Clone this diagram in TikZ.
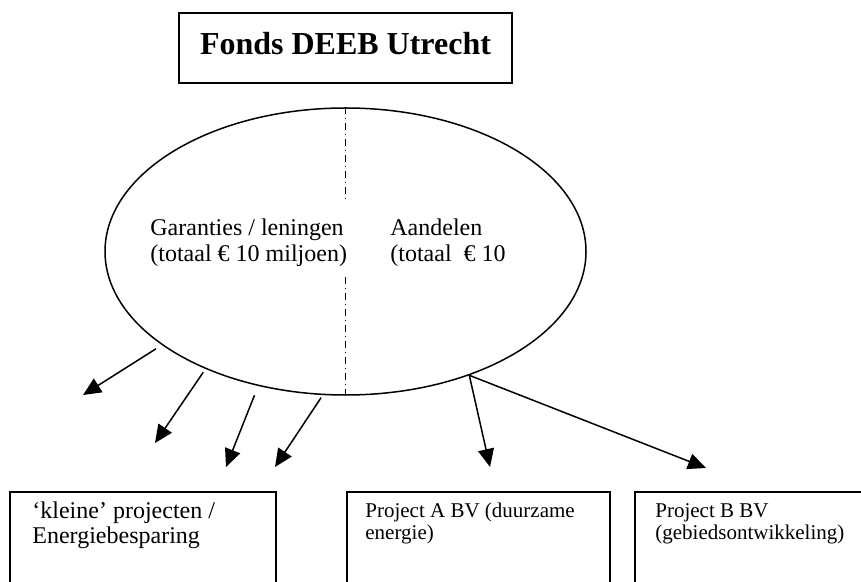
\documentclass[tikz,border=0pt]{standalone}
\usepackage{fontspec}
\setmainfont{Liberation Serif}
\usetikzlibrary{shapes.geometric,arrows.meta}

\begin{document}
\begin{tikzpicture}[x=.5pt,y=-.5pt,
		flow/.style={line width=.75pt,shorten <=1.5pt,-{Triangle[length=9pt,width=8pt]}},
		frame/.style={draw,line width=.75pt,inner sep=0pt,anchor=north west},
		divider/.style={line width=.6pt,dash pattern=on 3.5pt off 2pt on .5pt off 2pt},
		txt/.style={anchor=base west,inner sep=0pt,font=\fontsize{12}{13}\selectfont},
		smalltxt/.style={anchor=base west,inner sep=0pt,font=\fontsize{10.5}{11}\selectfont}]
		\useasboundingbox (0,0) rectangle (861,582);
		\node[frame,line width=1pt,minimum width=166.5pt,minimum height=35pt,text depth=5pt,
			font=\fontsize{16}{19}\selectfont\bfseries] (fonds) at (178,12) {Fonds DEEB Utrecht};
		\node[draw,ellipse,line width=.75pt,minimum width=240.5pt,minimum height=143.5pt] (fund) at (345.5,251.5) {};
		\coordinate (gapA) at (345.5,202);
		\coordinate (gapB) at (345.5,277);
		\draw[divider] (fund.north)--(gapA);
		\draw[divider] (gapB)--(fund.south);
		\node[txt] (garant) at (150,236) {\begin{tabular}[t]{@{}l@{}}Garanties / leningen\\(totaal € 10 miljoen)\end{tabular}};
		\node[txt] (aandel) at (390,236) {\begin{tabular}[t]{@{}l@{}}Aandelen\\(totaal~ € 10\end{tabular}};
		\node[frame,minimum width=133pt,minimum height=60pt] (small) at (9,491) {};
		\node[frame,minimum width=131.5pt,minimum height=60pt] (projA) at (346,491) {};
		\node[frame,minimum width=120pt,minimum height=60pt] (projB) at (634,491) {};
		\node[txt,font=\fontsize{12}{12.5}\selectfont] (smalllbl) at (32,518) {\begin{tabular}[t]{@{}l@{}}‘kleine’ projecten /\\Energiebesparing\end{tabular}};
		\node[smalltxt] (projAlbl) at (365,517) {\begin{tabular}[t]{@{}l@{}}Project A BV (duurzame\\energie)\end{tabular}};
		\node[smalltxt] (projBlbl) at (655,517) {\begin{tabular}[t]{@{}l@{}}Project B BV\\(gebiedsontwikkeling)\end{tabular}};
		\coordinate (t1) at (83,395);
		\coordinate (t2) at (155,443);
		\coordinate (t3) at (226,467);
		\coordinate (t4) at (275,467);
		\coordinate (t5) at (490,467);
		\coordinate (t6) at (706,468);
		\draw[flow,shorten <=3.5pt] (fund.207)--(t1);
		\draw[flow,shorten <=2pt] (fund.220)--(t2);
		\draw[flow,shorten <=5pt] (fund.237)--(t3);
		\draw[flow] (fund.261)--(t4);
		\draw[flow,shorten <=0pt] (fund.315)--(t5);
		\draw[flow,shorten <=0pt] (fund.315)--(t6);
	\end{tikzpicture}
\end{document}
